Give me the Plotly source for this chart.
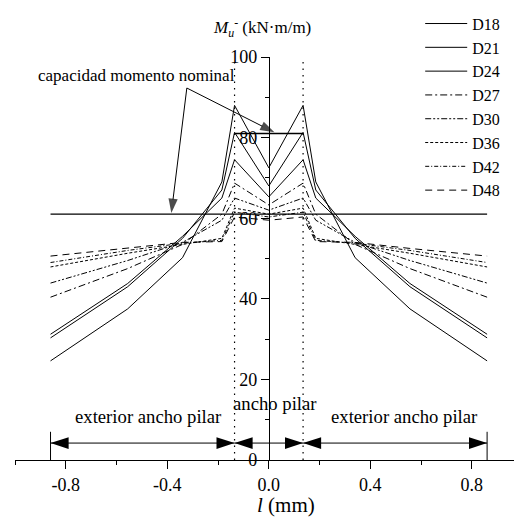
import plotly.graph_objects as go

# ---------------- data ----------------
X_POS = [-0.86, -0.556, -0.34, -0.185, -0.135, 0.0, 0.135, 0.185, 0.34, 0.556, 0.86]
D18 = [24.6, 37.5, 50.2, 69.0, 88.0, 72.5, 88.0, 69.0, 50.2, 37.5, 24.6]
D21 = [30.3, 43.0, 55.0, 67.0, 81.3, 68.0, 81.3, 67.0, 55.0, 43.0, 30.3]
D24 = [31.2, 43.8, 55.5, 65.0, 74.5, 65.3, 74.5, 65.0, 55.5, 43.8, 31.2]
D27 = [40.4, 47.5, 53.5, 61.0, 68.7, 63.3, 68.7, 61.0, 53.5, 47.5, 40.4]
D30 = [43.9, 49.5, 54.0, 59.5, 65.0, 62.0, 65.0, 59.5, 54.0, 49.5, 43.9]
D36 = [47.9, 51.3, 53.5, 55.0, 62.5, 61.0, 62.5, 55.0, 53.5, 51.3, 47.9]
D42 = [49.0, 52.0, 53.8, 54.5, 61.5, 60.3, 61.5, 54.5, 53.8, 52.0, 49.0]
D48 = [50.6, 52.5, 54.0, 54.2, 60.3, 59.5, 60.3, 54.2, 54.0, 52.5, 50.6]
SERIES_NAMES = ["D18", "D21", "D24", "D27", "D30", "D36", "D42", "D48"]
SERIES_VALUES = [D18, D21, D24, D27, D30, D36, D42, D48]

NOMINAL_EXT = 61.0       # nominal capacity, whole width
NOMINAL_COL = 81.0       # nominal capacity, column width
SPAN_EDGE = 0.86         # extent of outer region
COL_FACE = 0.135         # column face

ARROW_ORIGIN = (-0.323, 92.3)
ARROW_TIP_EXT = (-0.384, 61.3)
ARROW_TIP_COL = (0.022, 81.3)
DIM_Y = 4.2
DIM_BAR_TOP = 7.0

X_TICKS = [-0.8, -0.4, 0.0, 0.4, 0.8]
X_TICK_LABELS = ["-0.8", "-0.4", "0.0", "0.4", "0.8"]
X_MINOR = [-1.0, -0.6, -0.2, 0.2, 0.6, 1.0]
Y_TICKS = [0, 20, 40, 60, 80, 100]
Y_MINOR = [10, 30, 50, 70, 90]

# ---------------- styles ----------------
FONT = "Liberation Serif"
DASHES = ["solid", "solid", "solid",
          "7px,3px,2px,3px",
          "6px,2px,2px,2px,2px,2px",
          "3px,2px",
          "4px,2px,1px,2px",
          "7px,5px"]

fig = go.Figure()

for name, vals, dash in zip(SERIES_NAMES, SERIES_VALUES, DASHES):
    fig.add_trace(go.Scatter(x=X_POS, y=vals, mode="lines", name=name,
                             line=dict(color="black", width=1, dash=dash)))

# nominal capacity lines
fig.add_trace(go.Scatter(x=[-SPAN_EDGE, SPAN_EDGE], y=[NOMINAL_EXT, NOMINAL_EXT],
                         mode="lines", line=dict(color="black", width=1.2),
                         showlegend=False, hoverinfo="skip"))
fig.add_trace(go.Scatter(x=[-COL_FACE, COL_FACE], y=[NOMINAL_COL, NOMINAL_COL],
                         mode="lines", line=dict(color="black", width=1.5),
                         showlegend=False, hoverinfo="skip"))

# column face dotted lines
for xv in (-COL_FACE, COL_FACE):
    fig.add_trace(go.Scatter(x=[xv, xv], y=[0, 100], mode="lines",
                             line=dict(color="black", width=1.2, dash="1.5px,5px"),
                             showlegend=False, hoverinfo="skip"))

# annotation arrows
for tip in (ARROW_TIP_EXT, ARROW_TIP_COL):
    fig.add_trace(go.Scatter(x=[ARROW_ORIGIN[0], tip[0]], y=[ARROW_ORIGIN[1], tip[1]],
                             mode="lines+markers",
                             line=dict(color="black", width=1),
                             marker=dict(symbol=["circle", "arrow"], size=[0, 15],
                                         angleref="previous", color="black",
                                         line=dict(width=0)),
                             showlegend=False, hoverinfo="skip"))

# dimension arrows
for x0, x1 in ((-SPAN_EDGE, -COL_FACE), (-COL_FACE, COL_FACE), (COL_FACE, SPAN_EDGE)):
    fig.add_trace(go.Scatter(x=[x0, x1], y=[DIM_Y, DIM_Y], mode="lines+markers",
                             line=dict(color="black", width=1),
                             marker=dict(symbol="arrow", size=19, angle=[-90, 90],
                                         color="black", line=dict(width=0)),
                             showlegend=False, hoverinfo="skip"))
for xv in (-SPAN_EDGE, SPAN_EDGE):
    fig.add_trace(go.Scatter(x=[xv, xv], y=[0, DIM_BAR_TOP], mode="lines",
                             line=dict(color="black", width=1),
                             showlegend=False, hoverinfo="skip"))

txt = dict(family=FONT, size=17, color="black")
txt_big = dict(family=FONT, size=18.7, color="black")
annotations = [
    dict(x=-0.125, y=95.5, xref="x", yref="y", text="capacidad momento nominal",
         showarrow=False, xanchor="right", yanchor="middle", font=txt),
    dict(x=-0.473, y=10.7, xref="x", yref="y", text="exterior ancho pilar",
         showarrow=False, xanchor="center", yanchor="middle", font=txt_big),
    dict(x=0.536, y=10.7, xref="x", yref="y", text="exterior ancho pilar",
         showarrow=False, xanchor="center", yanchor="middle", font=txt_big),
    dict(x=0.026, y=13.9, xref="x", yref="y", text="ancho pilar",
         showarrow=False, xanchor="center", yanchor="middle", font=txt_big),
    dict(x=-0.028, y=1.072, xref="x", yref="paper",
         text="<i>M</i><sub><i>u</i></sub><sup>-</sup> (kN·m/m)",
         showarrow=False, xanchor="center", yanchor="middle", font=txt),
    dict(x=0.068, y=-0.112, xref="x", yref="paper", text="<i>l</i> (mm)",
         showarrow=False, xanchor="center", yanchor="middle",
         font=dict(family=FONT, size=21, color="black")),
]

fig.update_layout(
    width=514, height=521,
    margin=dict(l=15, r=0, t=57, b=61, autoexpand=False),
    paper_bgcolor="white", plot_bgcolor="white",
    font=dict(family=FONT, size=17, color="black"),
    annotations=annotations,
    showlegend=True,
    legend=dict(x=0.812, y=1.125, xanchor="left", yanchor="top",
                bgcolor="rgba(0,0,0,0)", font=dict(family=FONT, size=16),
                itemwidth=42, tracegroupgap=0),
    xaxis=dict(range=[-1.0, 0.966], showgrid=False, zeroline=False,
               showline=True, linecolor="black", linewidth=1,
               ticks="outside", ticklen=8, tickcolor="black",
               tickvals=X_TICKS, ticktext=X_TICK_LABELS,
               minor=dict(tickvals=X_MINOR, ticks="outside", ticklen=4,
                          tickcolor="black"),
               tickfont=dict(family=FONT, size=18)),
    yaxis=dict(range=[0, 100], anchor="free", position=(0 - (-1.0)) / 1.966,
               showgrid=False, zeroline=False,
               showline=True, linecolor="black", linewidth=1,
               ticks="outside", ticklen=8, tickcolor="black",
               tickvals=Y_TICKS,
               minor=dict(tickvals=Y_MINOR, ticks="outside", ticklen=4,
                          tickcolor="black"),
               tickfont=dict(family=FONT, size=18)),
)

fig.write_html("out.html",
               config={"displayModeBar": False},
               post_script="document.body.style.margin='0';"
                           "document.body.style.padding='0';")
